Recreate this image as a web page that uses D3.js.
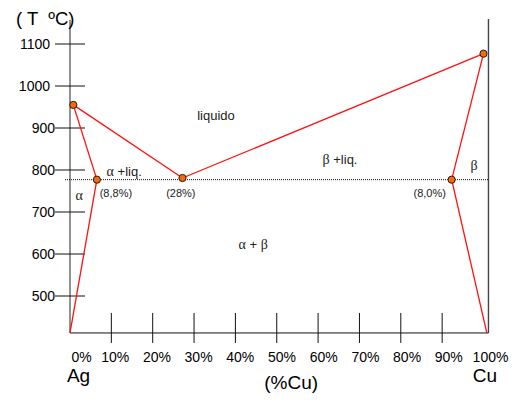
<!DOCTYPE html>
<html>
<head>
<meta charset="utf-8">
<script src="https://cdn.jsdelivr.net/npm/d3@7"></script>
<style>
  body { margin: 0; background: #fff; }
  svg { display: block; font-family: "Liberation Sans", Arial, sans-serif; }
  .greek { font-family: "Liberation Serif", "Times New Roman", serif; }
</style>
</head>
<body>
<svg id="phase" width="528" height="411"></svg>
<script>
// ************************************
// Ag-Cu phase diagram
// ************************************

// tick values
const tempTicks = [500, 600, 700, 800, 900, 1000, 1100];
const pctTicks = [10, 20, 30, 40, 50, 60, 70, 80, 90];
const pctLabels = [0, 10, 20, 30, 40, 50, 60, 70, 80, 90, 100];

// key points (%Cu, T)
const pointNames = ["Ag", "alphaMax", "eutectic", "betaMax", "Cu"];
const pointPct   = [0.8, 6.5, 27.2, 92.3, 100];
const pointTemp  = [955, 777, 781, 777, 1077];

const eutecticTemp = 777;
const bottomTemp = 412;
const topTemp = 1157;

// phase boundaries, as pairs of [%Cu, T]
const liquidusLeft  = [[0.8, 955], [27.2, 781]];
const liquidusRight = [[27.2, 781], [100, 1077]];
const solidusLeft   = [[0.8, 955], [6.5, 777]];
const solvusLeft    = [[6.5, 777], [0, 412]];
const solidusRight  = [[100, 1077], [92.3, 777]];
const solvusRight   = [[92.3, 777], [100.8, 412]];

// region / point labels: text, %Cu, T, size, greek?
const labels = [
  { t: "liquido",  p: 35.3, T: 931, s: 13 },
  { t: "\u03b2 +liq.", p: 65.3, T: 826, s: 13, g: true },
  { t: "\u03b1 +liq.", p: 13.1, T: 798, s: 13, g: true },
  { t: "\u03b1", p: 2.2, T: 740, s: 13, g: true },
  { t: "\u03b2", p: 97.7, T: 812, s: 13, g: true },
  { t: "\u03b1 + \u03b2", p: 44.3, T: 624, s: 13, g: true },
  { t: "(8,8%)", p: 11.1, T: 746, s: 11 },
  { t: "(28%)",  p: 26.8, T: 746, s: 11 },
  { t: "(8,0%)", p: 87.0, T: 746, s: 11 }
];

const svg = d3.select("#phase");

const x = d3.scaleLinear().domain([0, 100]).range([70, 483.5]);
const y = d3.scaleLinear().domain([500, 1100]).range([296, 44]);

// Y axis (grey)
svg.append("line")
  .attr("x1", x(0)).attr("x2", x(0))
  .attr("y1", y(topTemp)).attr("y2", y(bottomTemp))
  .attr("stroke", "#777").attr("stroke-width", 1.6);

// right (Cu) axis
svg.append("line")
  .attr("x1", x(101.2)).attr("x2", x(101.2))
  .attr("y1", y(topTemp) - 1).attr("y2", y(bottomTemp))
  .attr("stroke", "#444").attr("stroke-width", 1.4);

// bottom axis
svg.append("line")
  .attr("x1", x(0)).attr("x2", x(101.2))
  .attr("y1", y(bottomTemp)).attr("y2", y(bottomTemp))
  .attr("stroke", "#111").attr("stroke-width", 1);

// Y ticks crossing the axis
svg.selectAll(".ytick")
  .data(tempTicks)
  .enter()
  .append("line")
  .attr("class", "ytick")
  .attr("x1", x(0) - 15).attr("x2", x(0) + 15)
  .attr("y1", d => y(d)).attr("y2", d => y(d))
  .attr("stroke", "#111").attr("stroke-width", 1);

svg.selectAll(".ylabel")
  .data(tempTicks)
  .enter()
  .append("text")
  .attr("class", "ylabel")
  .attr("x", d => d >= 1000 ? x(0) - 20 : x(0) - 15)
  .attr("y", d => y(d))
  .attr("dy", "0.36em")
  .attr("text-anchor", "end")
  .style("font-size", "14px")
  .text(d => d);

// X ticks: 20px above axis, 10px below
svg.selectAll(".xtick")
  .data(pctTicks)
  .enter()
  .append("line")
  .attr("class", "xtick")
  .attr("x1", d => x(d)).attr("x2", d => x(d))
  .attr("y1", y(bottomTemp) - 20).attr("y2", y(bottomTemp) + 10)
  .attr("stroke", "#111").attr("stroke-width", 1);

svg.selectAll(".xlabel")
  .data(pctLabels)
  .enter()
  .append("text")
  .attr("class", "xlabel")
  .attr("x", d => d === 0 ? x(d) + 11.5 : x(d) + 3.5 + d * 0.035)
  .attr("y", y(bottomTemp) + 29)
  .attr("text-anchor", "middle")
  .style("font-size", "14px")
  .text(d => d + "%");

// axis names
svg.append("text")
  .attr("x", 16).attr("y", 25)
  .style("font-size", "18.5px")
  .style("white-space", "pre")
  .text("( T  \u00baC)");

svg.append("text")
  .attr("x", x(0) + 8.5).attr("y", 382)
  .attr("text-anchor", "middle")
  .style("font-size", "19px")
  .text("Ag");

svg.append("text")
  .attr("x", x(100) + 1.5).attr("y", 382)
  .attr("text-anchor", "middle")
  .style("font-size", "19px")
  .text("Cu");

svg.append("text")
  .attr("x", x(53.5)).attr("y", 389)
  .attr("text-anchor", "middle")
  .style("font-size", "19px")
  .text("(%Cu)");

// eutectic isotherm (dotted)
svg.append("line")
  .attr("x1", x(0) - 5).attr("x2", x(101.2))
  .attr("y1", y(eutecticTemp)).attr("y2", y(eutecticTemp))
  .attr("stroke", "#111").attr("stroke-width", 1)
  .attr("stroke-dasharray", "1,1");

// phase boundaries
const line = d3.line().x(d => x(d[0])).y(d => y(d[1]));
const boundaries = [liquidusLeft, liquidusRight, solidusLeft, solvusLeft, solidusRight, solvusRight];

svg.selectAll(".boundary")
  .data(boundaries)
  .enter()
  .append("path")
  .attr("class", "boundary")
  .attr("d", line)
  .attr("fill", "none")
  .attr("stroke", "#ff1010")
  .attr("stroke-width", 1.3);

// key points
svg.selectAll(".kp")
  .data(pointNames)
  .enter()
  .append("circle")
  .attr("class", "kp")
  .attr("cx", (d, i) => x(pointPct[i]))
  .attr("cy", (d, i) => y(pointTemp[i]))
  .attr("r", 3.6)
  .style("fill", "#f26a0f")
  .style("stroke", "#2a1a10")
  .style("stroke-width", 1);

// region labels
svg.selectAll(".lbl")
  .data(labels)
  .enter()
  .append("text")
  .attr("class", "lbl")
  .attr("x", d => x(d.p))
  .attr("y", d => y(d.T))
  .attr("dy", "0.36em")
  .attr("text-anchor", "middle")
  .style("font-size", d => d.s + "px")
  .style("fill", "#222")
  .each(function(d) {
    const el = d3.select(this);
    if (!d.g) { el.text(d.t); return; }
    // greek letters in a serif face, the rest sans
    d.t.split(/([\u03b1\u03b2])/).filter(s => s.length).forEach(s => {
      el.append("tspan")
        .attr("class", /[\u03b1\u03b2]/.test(s) ? "greek" : null)
        .style("font-size", /[\u03b1\u03b2]/.test(s) ? "14px" : null)
        .text(s);
    });
  });
</script>
</body>
</html>
